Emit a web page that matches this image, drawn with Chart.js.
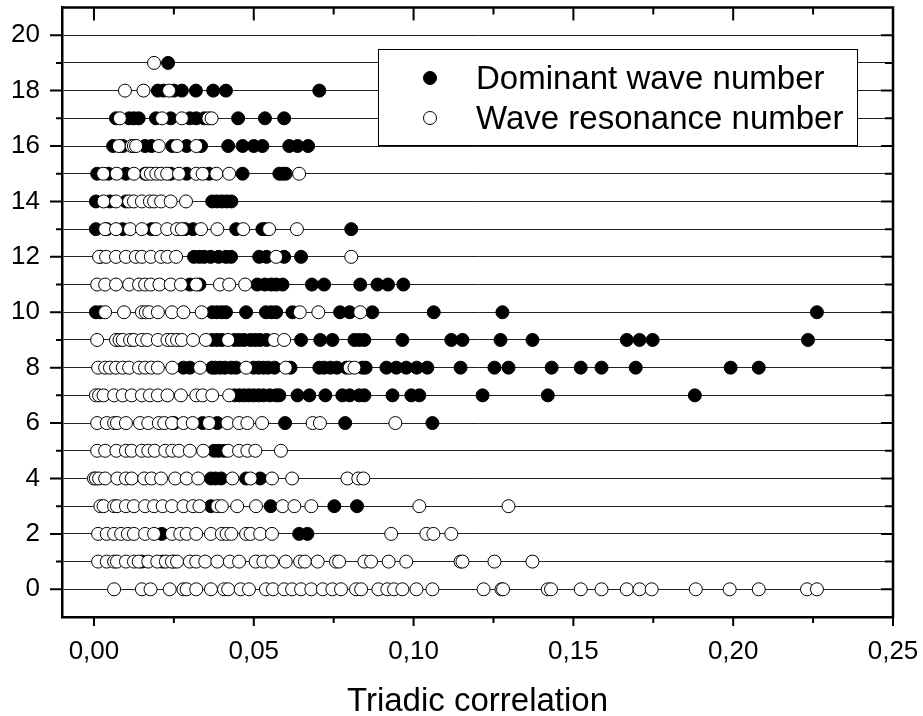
<!DOCTYPE html>
<html>
<head>
<meta charset="utf-8">
<script src="https://cdn.jsdelivr.net/npm/chart.js@4"></script>
<style>
  html, body { margin: 0; padding: 0; background: #fff; }
  canvas { display: block; }
</style>
</head>
<body>
<canvas id="myChart" width="923" height="716"></canvas>
<script>
// wave numbers on the y axis (row index = wave number)
var waveNumbers = [0, 1, 2, 3, 4, 5, 6, 7, 8, 9, 10, 11, 12, 13, 14, 15, 16, 17, 18, 19];

// triadic correlation values, one list per wave number
var dominant = [
    [],
    [0.0150, 0.0215, 0.0250],
    [0.0212, 0.0642, 0.0668],
    [0.0366, 0.0553, 0.0752, 0.0823],
    [0.0366, 0.0380, 0.0398, 0.0476, 0.0520],
    [0.0376, 0.0390, 0.0407],
    [0.0250, 0.0340, 0.0386, 0.0598, 0.0786, 0.1059],
    [0.0440, 0.0455, 0.0470, 0.0485, 0.0500, 0.0515, 0.0530, 0.0550, 0.0570, 0.0580, 0.0637, 0.0674, 0.0724,
     0.0777, 0.0800, 0.0830, 0.0846, 0.0934, 0.0993, 0.1018, 0.1216, 0.1420, 0.1880],
    [0.0280, 0.0300, 0.0370, 0.0380, 0.0395, 0.0410, 0.0430, 0.0445, 0.0500, 0.0515, 0.0530, 0.0545, 0.0565,
     0.0615, 0.0705, 0.0720, 0.0740, 0.0760, 0.0790, 0.0840, 0.0850, 0.0915, 0.0946, 0.0977, 0.1010, 0.1043,
     0.1147, 0.1253, 0.1297, 0.1432, 0.1523, 0.1588, 0.1695, 0.1992, 0.2080],
    [0.0370, 0.0385, 0.0400, 0.0440, 0.0455, 0.0470, 0.0490, 0.0505, 0.0520, 0.0540, 0.0648, 0.0708, 0.0746,
     0.0815, 0.0830, 0.0846, 0.0965, 0.1118, 0.1153, 0.1272, 0.1372, 0.1667, 0.1707, 0.1748, 0.2234],
    [0.0006, 0.0020, 0.0370, 0.0385, 0.0400, 0.0413, 0.0476, 0.0538, 0.0555, 0.0570, 0.0621, 0.0770, 0.0800,
     0.0871, 0.1063, 0.1278, 0.2262],
    [0.0300, 0.0330, 0.0511, 0.0535, 0.0555, 0.0570, 0.0590, 0.0682, 0.0720, 0.0833, 0.0887, 0.0920, 0.0968],
    [0.0020, 0.0313, 0.0330, 0.0345, 0.0365, 0.0390, 0.0413, 0.0429, 0.0517, 0.0540, 0.0595, 0.0648],
    [0.0006, 0.0040, 0.0090, 0.0180, 0.0285, 0.0310, 0.0445, 0.0527, 0.0535, 0.0805],
    [0.0006, 0.0050, 0.0100, 0.0370, 0.0385, 0.0400, 0.0415, 0.0430],
    [0.0010, 0.0045, 0.0100, 0.0160, 0.0240, 0.0290, 0.0360, 0.0465, 0.0580, 0.0590, 0.0600],
    [0.0060, 0.0090, 0.0160, 0.0180, 0.0245, 0.0290, 0.0335, 0.0420, 0.0465, 0.0500, 0.0527, 0.0611, 0.0637, 0.0670],
    [0.0069, 0.0110, 0.0125, 0.0140, 0.0194, 0.0240, 0.0300, 0.0320, 0.0345, 0.0451, 0.0535, 0.0595],
    [0.0200, 0.0218, 0.0250, 0.0275, 0.0319, 0.0373, 0.0413, 0.0705],
    [0.0232]
];

var resonance = [
    [0.0063, 0.0150, 0.0177, 0.0237, 0.0280, 0.0290, 0.0320, 0.0366, 0.0407, 0.0420, 0.0459, 0.0485, 0.0538,
     0.0560, 0.0595, 0.0620, 0.0648, 0.0680, 0.0716, 0.0746, 0.0773, 0.0820, 0.0836, 0.0890, 0.0918, 0.0939,
     0.0965, 0.1009, 0.1059, 0.1219, 0.1275, 0.1280, 0.1420, 0.1430, 0.1523, 0.1588, 0.1667, 0.1707, 0.1745,
     0.1883, 0.1989, 0.2080, 0.2231, 0.2262],
    [0.0013, 0.0040, 0.0063, 0.0072, 0.0100, 0.0125, 0.0140, 0.0170, 0.0198, 0.0225, 0.0244, 0.0260, 0.0300,
     0.0320, 0.0348, 0.0386, 0.0425, 0.0454, 0.0506, 0.0530, 0.0557, 0.0600, 0.0645, 0.0660, 0.0700, 0.0757,
     0.0767, 0.0846, 0.0867, 0.0922, 0.0977, 0.1147, 0.1153, 0.1253, 0.1372],
    [0.0013, 0.0040, 0.0063, 0.0085, 0.0106, 0.0125, 0.0160, 0.0188, 0.0244, 0.0270, 0.0290, 0.0320, 0.0366,
     0.0400, 0.0415, 0.0430, 0.0476, 0.0490, 0.0520, 0.0557, 0.0930, 0.1040, 0.1062, 0.1118],
    [0.0020, 0.0030, 0.0063, 0.0072, 0.0100, 0.0125, 0.0160, 0.0188, 0.0215, 0.0244, 0.0280, 0.0310, 0.0330,
     0.0386, 0.0400, 0.0448, 0.0507, 0.0590, 0.0627, 0.0680, 0.1018, 0.1297],
    [0.0000, 0.0006, 0.0016, 0.0035, 0.0073, 0.0100, 0.0118, 0.0157, 0.0180, 0.0210, 0.0254, 0.0290, 0.0326,
     0.0433, 0.0490, 0.0557, 0.0620, 0.0793, 0.0827, 0.0843],
    [0.0010, 0.0035, 0.0070, 0.0100, 0.0118, 0.0150, 0.0170, 0.0190, 0.0223, 0.0245, 0.0266, 0.0300, 0.0342,
     0.0420, 0.0454, 0.0480, 0.0505, 0.0585],
    [0.0010, 0.0040, 0.0063, 0.0072, 0.0100, 0.0144, 0.0170, 0.0203, 0.0220, 0.0244, 0.0280, 0.0309, 0.0360,
     0.0418, 0.0454, 0.0480, 0.0526, 0.0684, 0.0707, 0.0943],
    [0.0006, 0.0016, 0.0030, 0.0063, 0.0090, 0.0118, 0.0150, 0.0175, 0.0200, 0.0230, 0.0272, 0.0320, 0.0340,
     0.0370, 0.0423],
    [0.0013, 0.0035, 0.0050, 0.0069, 0.0090, 0.0110, 0.0141, 0.0160, 0.0180, 0.0200, 0.0245, 0.0332, 0.0476,
     0.0600, 0.0800, 0.0815],
    [0.0010, 0.0069, 0.0080, 0.0090, 0.0113, 0.0125, 0.0150, 0.0167, 0.0200, 0.0230, 0.0244, 0.0260, 0.0275,
     0.0310, 0.0350, 0.0420, 0.0564, 0.0595],
    [0.0035, 0.0094, 0.0150, 0.0162, 0.0173, 0.0200, 0.0244, 0.0280, 0.0337, 0.0644, 0.0702, 0.0833],
    [0.0010, 0.0035, 0.0069, 0.0110, 0.0141, 0.0160, 0.0178, 0.0205, 0.0240, 0.0272, 0.0320, 0.0394, 0.0423, 0.0473],
    [0.0016, 0.0038, 0.0069, 0.0100, 0.0131, 0.0150, 0.0178, 0.0210, 0.0230, 0.0257, 0.0570, 0.0805],
    [0.0035, 0.0069, 0.0113, 0.0150, 0.0194, 0.0229, 0.0260, 0.0275, 0.0335, 0.0386, 0.0467, 0.0548, 0.0635],
    [0.0030, 0.0069, 0.0110, 0.0125, 0.0150, 0.0175, 0.0188, 0.0210, 0.0240, 0.0288],
    [0.0029, 0.0071, 0.0125, 0.0165, 0.0178, 0.0195, 0.0210, 0.0229, 0.0266, 0.0320, 0.0340, 0.0383, 0.0423, 0.0642],
    [0.0078, 0.0118, 0.0125, 0.0132, 0.0203, 0.0260, 0.0320],
    [0.0081, 0.0213, 0.0275, 0.0358, 0.0368],
    [0.0097, 0.0155, 0.0235],
    [0.0188]
];

var seriesNames = ['Dominant wave number', 'Wave resonance number'];
var xTicks = [0, 0.05, 0.10, 0.15, 0.20, 0.25];
var yTicks = [0, 1, 2, 3, 4, 5, 6, 7, 8, 9, 10, 11, 12, 13, 14, 15, 16, 17, 18, 19, 20];
var xTitle = 'Triadic correlation';

var FONT = '"Liberation Sans", Arial, sans-serif';

function toPoints(rows) {
    var pts = [];
    rows.forEach(function (xs, k) {
        xs.forEach(function (x) { pts.push({ x: x, y: waveNumbers[k] }); });
    });
    return pts;
}

// box on top/right plus the small tick marks, and the framed legend
var framePlugin = {
    id: 'frame',
    afterDraw: function (chart) {
        var ctx = chart.ctx, a = chart.chartArea;
        var xs = chart.scales.x, ys = chart.scales.y;
        ctx.save();
        ctx.strokeStyle = '#000';
        ctx.lineWidth = 2.5;
        ctx.beginPath();
        ctx.moveTo(a.left - 1, a.top);
        ctx.lineTo(a.right, a.top);
        ctx.lineTo(a.right, a.bottom + 1);
        ctx.stroke();

        ctx.lineWidth = 2;
        ctx.beginPath();
        for (var i = 0; i <= 10; i++) {
            var px = xs.getPixelForValue(i * 0.025);
            var major = i % 2 === 0;
            ctx.moveTo(px, a.bottom);
            ctx.lineTo(px, a.bottom + (major ? 9 : 6));
            ctx.moveTo(px, a.top);
            ctx.lineTo(px, a.top + (major ? 13 : 7));
        }
        yTicks.forEach(function (v) {
            var py = ys.getPixelForValue(v);
            var major = v % 2 === 0;
            ctx.moveTo(a.left - (major ? 12 : 6), py);
            ctx.lineTo(a.left, py);
            ctx.moveTo(a.right - (major ? 12 : 8), py);
            ctx.lineTo(a.right, py);
        });
        ctx.stroke();

        // legend
        var bx = 378, by = 49, bw = 479, bh = 96;
        ctx.fillStyle = '#fff';
        ctx.fillRect(bx, by, bw, bh);
        ctx.lineWidth = 1;
        ctx.strokeRect(bx + 0.5, by + 0.5, bw, bh);
        ctx.font = '33px ' + FONT;
        ctx.textAlign = 'left';
        ctx.textBaseline = 'alphabetic';
        chart.data.datasets.forEach(function (ds, i) {
            var my = by + 29 + i * 40;
            ctx.beginPath();
            ctx.arc(bx + 52, my, 6.5, 0, Math.PI * 2);
            ctx.fillStyle = ds.backgroundColor;
            ctx.fill();
            ctx.lineWidth = 1;
            ctx.strokeStyle = '#000';
            ctx.stroke();
            ctx.fillStyle = '#000';
            ctx.fillText(ds.label, bx + 98, my + 11);
        });
        ctx.restore();
    }
};

var ctx = document.getElementById('myChart').getContext('2d');
var myChart = new Chart(ctx, {
    type: 'scatter',
    data: {
        datasets: [{
            label: seriesNames[0],
            data: toPoints(dominant),
            backgroundColor: '#000',
            borderColor: '#000',
            borderWidth: 1,
            pointRadius: 6.5,
            pointHoverRadius: 6.5,
            order: 2
        }, {
            label: seriesNames[1],
            data: toPoints(resonance),
            backgroundColor: '#fff',
            borderColor: '#000',
            borderWidth: 1,
            pointRadius: 6.5,
            pointHoverRadius: 6.5,
            order: 1
        }]
    },
    options: {
        responsive: false,
        animation: false,
        layout: { padding: { top: 7, right: 30, left: 0, bottom: 0 } },
        plugins: {
            legend: { display: false },
            tooltip: { enabled: false }
        },
        scales: {
            x: {
                type: 'linear',
                min: -0.01,
                max: 0.25,
                afterBuildTicks: function (scale) {
                    scale.ticks = xTicks.map(function (v) { return { value: v }; });
                },
                afterFit: function (scale) {
                    scale.height = 99;
                    scale.paddingLeft = 0;
                    scale.paddingRight = 0;
                },
                grid: { drawOnChartArea: false, drawTicks: false },
                border: { color: '#000', width: 2.5 },
                ticks: {
                    autoSkip: false,
                    maxRotation: 0,
                    padding: 19,
                    color: '#000',
                    font: { family: FONT, size: 26 },
                    callback: function (v) { return v.toFixed(2).replace('.', ','); }
                },
                title: {
                    display: true,
                    text: xTitle,
                    color: '#000',
                    padding: { top: 0, bottom: -2 },
                    font: { family: FONT, size: 33, lineHeight: 1 }
                }
            },
            y: {
                type: 'linear',
                min: -1,
                max: 21,
                afterBuildTicks: function (scale) {
                    scale.ticks = yTicks.map(function (v) { return { value: v }; });
                },
                afterFit: function (scale) {
                    scale.width = 62;
                    scale.paddingTop = 0;
                    scale.paddingBottom = 0;
                },
                grid: { color: '#222', lineWidth: 1, drawTicks: false },
                border: { color: '#000', width: 2.5 },
                ticks: {
                    autoSkip: false,
                    padding: 22,
                    color: '#000',
                    font: { family: FONT, size: 26 },
                    callback: function (v) { return v % 2 === 0 ? String(v) : ''; }
                }
            }
        }
    },
    plugins: [framePlugin]
});
</script>
</body>
</html>
